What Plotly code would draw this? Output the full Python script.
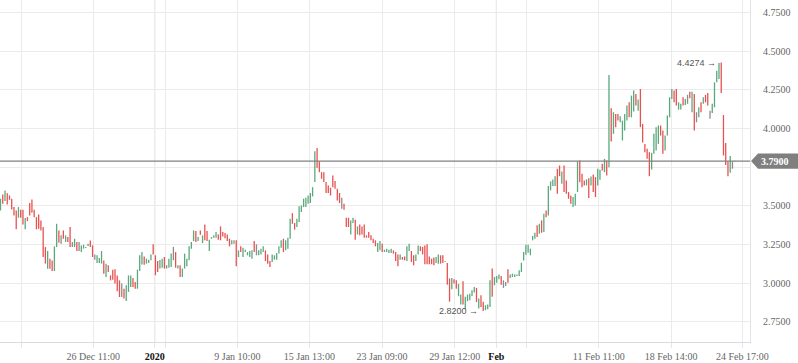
import plotly.graph_objects as go

# ---- bar data ----
highs = [
    # late Dec
    3.546,3.574,3.599,3.582,3.567,3.546,3.492,3.470,3.492,3.475,
    3.475,3.421,3.427,3.518,3.541,3.475,3.427,3.444,3.406,3.363,
    3.233,3.208,3.158,3.147,3.238,3.384,3.341,3.309,3.341,3.309,
    3.298,3.363,3.266,3.287,3.266,3.266,3.244,3.248,3.233,3.255,
    3.276,3.244,3.186,3.180,3.162,3.208,3.147,3.126,3.115,3.050,
    3.087,3.089,3.050,3.018,2.997,2.964,2.986,3.050,3.050,3.033,
    3.007,3.087,3.180,3.201,3.173,3.158,3.152,
    # early Jan
    3.186,3.251,3.180,3.143,3.150,3.158,3.169,3.115,3.158,3.191,
    3.234,3.201,3.115,3.115,3.094,3.191,3.158,3.238,3.266,3.341,
    3.337,3.298,3.341,3.309,3.380,3.337,3.281,3.298,3.309,3.330,
    3.315,3.367,3.330,3.325,3.315,3.287,3.277,3.277,3.277,3.212,
    3.238,3.229,3.216,3.201,3.208,3.212,3.272,3.251,3.212,3.223,
    3.238,3.212,3.186,3.143,3.186,3.180,3.195,3.238,3.277,3.287,
    3.277,3.294,3.417,3.453,3.389,
    # mid Jan
    3.417,3.497,3.503,3.546,3.552,3.567,3.583,3.621,3.854,3.875,
    3.789,3.718,3.718,3.654,3.632,3.617,3.697,3.660,3.610,3.583,
    3.552,3.514,3.423,3.423,3.406,3.423,3.410,3.367,3.380,3.367,
    3.380,3.309,3.330,3.309,3.287,3.277,3.259,3.272,3.255,3.216,
    3.223,3.216,3.223,3.212,3.201,3.186,3.186,3.169,3.173,3.238,
    3.255,3.208,3.180,3.186,3.244,3.238,3.234,3.244,3.251,3.173,
    3.158,3.165,3.169,3.186,3.180,3.180,
    # late Jan - early Feb
    3.143,3.130,3.030,3.033,3.025,3.018,2.995,2.926,3.012,2.911,
    2.926,2.932,2.954,2.975,2.969,2.900,2.922,2.879,2.857,2.861,
    3.018,3.094,3.040,3.046,3.055,3.046,3.018,3.007,3.089,3.055,
    3.061,3.055,3.055,3.083,3.132,3.201,3.249,3.249,3.223,3.305,
    3.326,3.374,3.384,3.406,3.449,3.470,3.628,3.658,3.671,3.692,
    3.740,3.761,3.722,3.761,3.664,3.589,3.567,3.557,3.578,3.787,
    3.793,3.707,3.664,3.671,3.679,
    3.690,3.703,3.686,3.740,3.733,3.772,3.804,3.793,4.347,
    # mid-late Feb
    4.131,4.106,4.095,4.095,4.080,4.052,4.095,4.149,4.170,4.213,
    4.246,4.224,4.188,4.256,4.030,3.901,3.869,3.847,3.843,3.966,
    4.009,4.020,4.020,3.987,3.955,4.084,4.203,4.256,4.246,4.256,
    4.170,4.160,4.203,4.192,4.218,4.239,4.239,4.224,4.106,4.138,
    4.170,4.203,4.218,4.231,4.116,4.160,4.299,4.375,4.425,4.4274,
    4.088,3.907,3.787,3.822,3.787,3.792,
]
lows = [
    3.470,3.513,3.531,3.509,3.539,3.477,3.438,3.348,3.423,3.423,
    3.380,3.348,3.401,3.438,3.455,3.427,3.348,3.352,3.341,3.169,
    3.126,3.093,3.093,3.078,3.078,3.233,3.261,3.255,3.287,3.266,
    3.266,3.233,3.233,3.233,3.208,3.208,3.201,3.223,3.227,3.240,
    3.233,3.169,3.152,3.130,3.130,3.126,3.061,3.040,3.072,3.018,
    3.022,2.997,2.947,2.910,2.910,2.900,2.885,2.943,2.975,2.975,
    2.964,2.964,3.078,3.121,3.119,3.126,3.130,
    3.148,3.186,3.051,3.072,3.095,3.100,3.094,3.094,3.100,3.104,
    3.148,3.100,3.094,3.040,3.040,3.094,3.109,3.148,3.223,3.272,
    3.266,3.272,3.313,3.259,3.277,3.272,3.208,3.287,3.294,3.294,
    3.281,3.277,3.302,3.290,3.272,3.238,3.251,3.255,3.109,3.169,
    3.201,3.169,3.201,3.180,3.169,3.158,3.201,3.180,3.180,3.186,
    3.201,3.143,3.126,3.104,3.137,3.152,3.152,3.191,3.229,3.201,
    3.212,3.223,3.287,3.384,3.346,
    3.363,3.395,3.460,3.492,3.492,3.514,3.518,3.561,3.654,3.746,
    3.718,3.675,3.654,3.583,3.583,3.567,3.621,3.610,3.535,3.518,
    3.481,3.475,3.363,3.363,3.315,3.389,3.281,3.315,3.309,3.315,
    3.294,3.294,3.294,3.277,3.259,3.238,3.201,3.212,3.201,3.201,
    3.201,3.195,3.195,3.191,3.143,3.109,3.152,3.152,3.148,3.143,
    3.208,3.137,3.115,3.143,3.186,3.208,3.186,3.122,3.122,3.122,
    3.122,3.115,3.130,3.126,3.126,3.130,
    3.139,2.990,2.880,2.960,2.997,2.964,2.915,2.861,2.861,2.831,
    2.883,2.889,2.917,2.939,2.878,2.836,2.846,2.820,2.825,2.831,
    2.846,2.911,2.986,3.003,3.025,2.990,2.969,2.982,3.003,3.033,
    3.040,3.040,3.046,3.046,3.072,3.147,3.184,3.197,3.180,3.277,
    3.287,3.298,3.320,3.326,3.330,3.427,3.438,3.600,3.628,3.628,
    3.578,3.692,3.643,3.589,3.578,3.546,3.514,3.492,3.503,3.589,
    3.653,3.621,3.632,3.632,3.550,
    3.632,3.589,3.557,3.632,3.669,3.729,3.718,3.697,3.750,
    3.916,3.966,4.009,4.052,4.041,3.923,3.987,4.052,4.073,4.073,
    4.110,4.149,4.116,4.009,3.910,3.847,3.804,3.692,3.735,3.837,
    3.858,3.901,3.955,3.837,3.858,3.955,4.073,4.192,4.170,4.149,
    4.123,4.123,4.149,4.153,4.160,4.196,4.106,3.987,4.041,4.073,
    4.106,4.160,4.170,4.149,4.063,4.101,4.138,4.299,4.321,4.231,
    3.826,3.765,3.692,3.714,3.740,3.788,
]
# u = close above open, d = close below open, f = unchanged
moves = list(
    "ududddddud" "dudddddddd" "dudduudfdu" "ddfudfuufu" "ddfuuududd" "ddddfduuud" "duuuduu"
    "uddduudfuu" "fduduuuuuu" "dududduuuu" "ddddddufdu" "duuuuudfuu" "uddduuuuud" "uuudd"
    "uuuuuuuuud" "dddddddddd" "fddduududd" "dddddduudu" "uuuddduddu" "udduuddddd" "dduudd"
    "fddudduudu" "uuuududduu" "uduuudffdu" "uuuuuuuuuu" "udududuuuu" "ddudddduuu" "dddud"
    "udduududu"
    "dudduuuudu" "ududdddduu" "uudduuuudd" "uudufdudfu" "duddfuuuud" "ddduff"
)
last_price = 3.79

tick_pos = [9.27, 41.34, 68.69, 73.41, 105.48, 137.55, 169.93, 202.32, 220.85, 234.21, 266.46, 298.66, 330.42]
tick_text = ["", "26 Dec 11:00", "2020", "", "9 Jan 10:00", "15 Jan 13:00", "23 Jan 09:00",
             "29 Jan 12:00", "Feb", "", "11 Feb 11:00", "18 Feb 14:00", "24 Feb 17:00"]
period_starts = ["2020", "Feb"]
y_ticks = [2.75, 3.0, 3.25, 3.5, 3.75, 4.0, 4.25, 4.5, 4.75]

N = len(highs)
colors = {"u": "#59a97c", "d": "#e8514f", "f": "#8c8c8c"}

fig = go.Figure()
for key in ["f", "u", "d"]:
    xs, ys = [], []
    for i in range(N):
        if moves[i] == key:
            xs += [i, i, None]
            ys += [lows[i], highs[i], None]
    fig.add_trace(go.Scatter(x=xs, y=ys, mode="lines", line=dict(color=colors[key], width=1.3),
                             hoverinfo="skip", showlegend=False))

# plot geometry
plot_w = 750
spacing = (734.7 - 0.5) / (N - 1)
x0 = -0.5 / spacing
x1 = x0 + plot_w / spacing
y_lo, y_hi = 2.619, 4.832

ticktext_fmt = []
for t in tick_text:
    if t in period_starts:
        ticktext_fmt.append("<b><span style='color:#111111'>%s</span></b>" % t)
    else:
        ticktext_fmt.append(t)

# the y label hidden behind the last-price tag is left blank
y_ticktext = ["" if abs(v - last_price) < 0.1 else "%.4f" % v for v in y_ticks]

tick_font = dict(family="Liberation Serif, Times New Roman, serif", size=10, color="#666666")

shapes = []
for p, t in zip(tick_pos, tick_text):
    if t in period_starts:
        shapes.append(dict(type="line", xref="x", yref="paper", x0=p, x1=p, y0=0, y1=1,
                           line=dict(color="#d3d3d3", width=1), layer="below"))
# last price line
shapes.append(dict(type="line", xref="paper", yref="y", x0=0, x1=1, y0=last_price, y1=last_price,
                   line=dict(color="#808080", width=1.2), layer="above"))
# last price tag
yp = (last_price - y_lo) / (y_hi - y_lo)
shapes.append(dict(type="path", xref="paper", yref="paper", xsizemode="pixel", ysizemode="pixel",
                   xanchor=1, yanchor=yp,
                   path="M 1,0 L 8,7.6 L 48,7.6 L 48,-7.6 L 8,-7.6 Z",
                   fillcolor="#7f7f7f", line=dict(width=0), layer="above"))

imax = max(range(N), key=lambda i: highs[i])
imin = min(range(N), key=lambda i: lows[i])
ann_font = dict(family="Liberation Sans, Arial, sans-serif", size=9, color="#555555")
annotations = [
    dict(x=imax, y=highs[imax], xref="x", yref="y", text="%.4f \u2192" % highs[imax],
         showarrow=False, xanchor="right", yanchor="middle", xshift=-3, font=ann_font),
    dict(x=imin, y=lows[imin], xref="x", yref="y", text="%.4f \u2192" % lows[imin],
         showarrow=False, xanchor="right", yanchor="middle", xshift=-3, font=ann_font),
    dict(x=1, y=last_price, xref="paper", yref="y", text="<b>%.4f</b>" % last_price,
         showarrow=False, xanchor="center", yanchor="middle", xshift=25,
         font=dict(family="Liberation Serif, Times New Roman, serif", size=10, color="#ffffff")),
]

fig.update_layout(
    width=798, height=363,
    margin=dict(l=0, r=48, t=0, b=21),
    plot_bgcolor="white", paper_bgcolor="white",
    showlegend=False,
    xaxis=dict(range=[x0, x1], tickmode="array", tickvals=tick_pos, ticktext=ticktext_fmt,
               showgrid=True, gridcolor="#ebebeb", gridwidth=1, zeroline=False,
               showline=True, linecolor="#d6dbe4", linewidth=1,
               ticks="outside", ticklen=5, tickcolor="#e6e6e6", tickwidth=1,
               tickfont=tick_font, fixedrange=True),
    yaxis=dict(range=[y_lo, y_hi], side="right", tickmode="array", tickvals=y_ticks,
               ticktext=y_ticktext,
               showgrid=True, gridcolor="#ebebeb", gridwidth=1, zeroline=False,
               showline=True, linecolor="#dfe3ea", linewidth=1,
               ticks="", ticklabelstandoff=10, tickfont=tick_font, fixedrange=True),
    shapes=shapes,
    annotations=annotations,
)

fig.write_html("out.html", config={"displayModeBar": False},
               post_script="document.body.style.margin='0';document.body.style.overflow='hidden';")
